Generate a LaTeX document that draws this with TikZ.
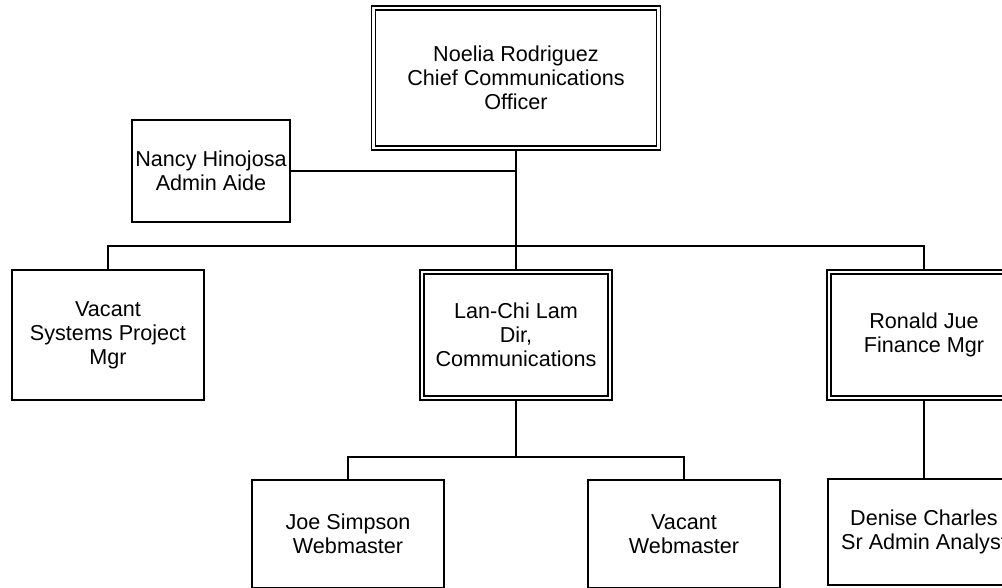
\documentclass[tikz,border=0pt]{standalone}
\usepackage{fontspec}
\setmainfont{Liberation Sans}
\usepackage{xcolor}
\usepackage{tikz}
\usetikzlibrary{positioning}

\begin{document}
\begin{tikzpicture}[
    x=0.75pt, y=-0.75pt,
    cargo/.style={draw, line width=1.1pt, align=center, inner sep=1pt,
        font=\fontsize{16.2pt}{18pt}\selectfont},
    chefia/.style={cargo, line width=0.8pt, double, double distance=2.2pt},
    linha/.style={line width=1pt}
]
    \fill[white] (0,0) rectangle (1002,587);
    \clip (0,0) rectangle (1002,587);

    \node[chefia, minimum width=213.75pt, minimum height=105pt] (ceo) at (516,78)
        {Noelia Rodriguez\\Chief Communications\\Officer};
    \node[cargo, minimum width=118.5pt, minimum height=76.5pt] (assessora) at (211,171)
        {Nancy Hinojosa\\Admin Aide};
    \node[cargo, minimum width=144pt, minimum height=97.5pt] (vago) at (108,335)
        {Vacant\\Systems Project\\Mgr};
    \node[chefia, minimum width=141pt, minimum height=94.5pt] (lam) at (516,335)
        {Lan-Chi Lam\\Dir,\\Communications};
    \node[chefia, minimum width=142.5pt, minimum height=94.5pt] (jue) at (924,335)
        {Ronald Jue\\Finance Mgr};
    \node[cargo, minimum width=144pt, minimum height=81pt] (simpson) at (348,534)
        {Joe Simpson\\Webmaster};
    \node[cargo, minimum width=144pt, minimum height=81pt] (vagoweb) at (684,534)
        {Vacant\\Webmaster};
    \node[cargo, minimum width=144pt, minimum height=79.5pt] (charles) at (924,532)
        {Denise Charles\\Sr Admin Analyst};

    \coordinate (barra) at (516,246);
    \coordinate (subbarra) at (516,457);

    \draw[linha] (ceo.south) -- (barra);
    \draw[linha] (assessora.east) -- (assessora.east -| ceo.south);
    \draw[linha] (vago.north) |- (barra) -| (jue.north);
    \draw[linha] (barra) -- (lam.north);
    \draw[linha] (lam.south) -- (subbarra);
    \draw[linha] (simpson.north) |- (subbarra) -| (vagoweb.north);
    \draw[linha] (jue.south) -- (charles.north);
\end{tikzpicture}
\end{document}
